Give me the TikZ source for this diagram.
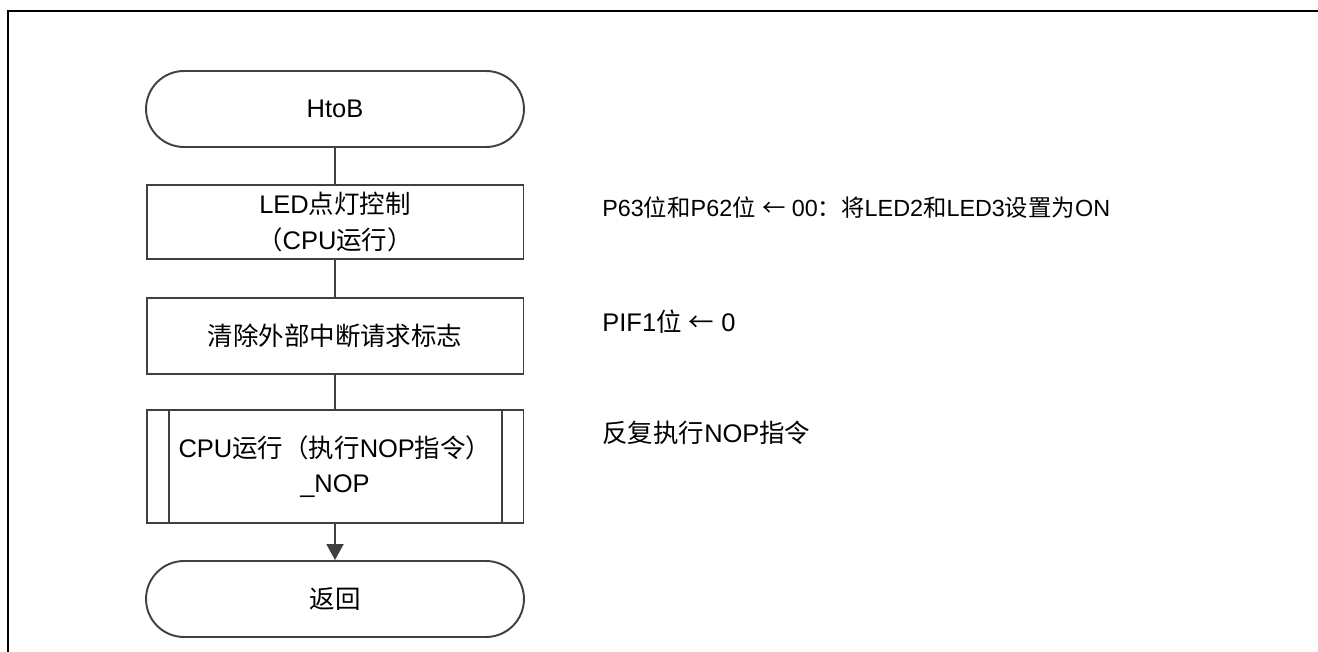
\documentclass[tikz,border=0pt]{standalone}
\usepackage{fontspec}
\setmainfont{Liberation Sans}
\newfontfamily\cjk{Noto Sans CJK SC}
\newcommand{\zh}[1]{{\cjk #1}}
\usetikzlibrary{positioning}
\usetikzlibrary{arrows.meta}
\usetikzlibrary{shapes.misc}

\begin{document}
\begin{tikzpicture}[
    x=0.02cm, y=-0.02cm,
    every node/.style={font=\fontsize{14.5}{20}\selectfont, text=black},
    terminal/.style={rounded rectangle, draw=black!75, line width=1.1pt, minimum width=7.56cm, minimum height=1.52cm, inner sep=0pt},
    process/.style={rectangle, draw=black!75, line width=1.1pt, minimum width=7.54cm, align=center, inner sep=0pt},
    note/.style={anchor=west, inner sep=0pt},
    link/.style={draw=black!75, line width=1.1pt},
    >={Triangle[length=0.32cm, width=0.34cm]}
]
    \useasboundingbox (0,0) rectangle (1318,652);
    \draw[line width=1.1pt] (1318,11) -- (8,11) -- (8,652);

    \node[terminal] (start) at (335,109) {HtoB};
    \node[process, minimum height=1.48cm] (led) at (335,222) {LED\zh{点灯控制}\\\zh{（}CPU\zh{运行）}};
    \node[process, minimum height=1.52cm] (clr) at (335,336) {\zh{清除外部中断请求标志}};
    \node[process, minimum height=2.26cm] (nop) at (335,466.5) {CPU\zh{运行（执行}NOP\zh{指令）}\\\_NOP};
    \node[terminal] (ret) at (335,599) {\zh{返回}};

    \draw[link] ([xshift=0.46cm]nop.north west) -- ([xshift=0.46cm]nop.south west);
    \draw[link] ([xshift=-0.44cm]nop.north east) -- ([xshift=-0.44cm]nop.south east);

    \draw[link] (start) -- (led);
    \draw[link] (led) -- (clr);
    \draw[link] (clr) -- (nop);
    \draw[link, ->] (nop) -- (ret);

    \node[note, font=\fontsize{13.3}{20}\selectfont] (n1) at (602,208) {P63\zh{位和}P62\zh{位} \zh{←} 00\zh{：将}LED2\zh{和}LED3\zh{设置为}ON};
    \node[note] (n2) at (602,322) {PIF1\zh{位} \zh{←} 0};
    \node[note] (n3) at (602,433) {\zh{反复执行}NOP\zh{指令}};
\end{tikzpicture}
\end{document}
